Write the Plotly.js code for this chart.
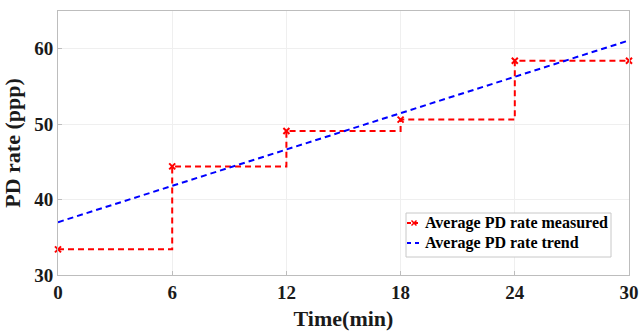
<!DOCTYPE html>
<html><head><meta charset="utf-8">
<script src="https://cdn.plot.ly/plotly-3.0.1.min.js"></script>
<style>html,body{margin:0;padding:0;background:#fff}#c{width:643px;height:336px}</style>
</head><body><div id="c"></div>
<script>
const timeMin = [0, 6, 12, 18, 24, 30];
const measuredRate = [33.4, 44.4, 49.1, 50.6, 58.4, 58.4];
const trendTime = [0, 30];
const trendRate = [37.0, 61.1];
const xTicks = [0, 6, 12, 18, 24, 30];
const yTicks = [30, 40, 50, 60];
const seriesNames = ['Average PD rate measured', 'Average PD rate trend'];

const fontFam = 'Liberation Serif';
const RED = '#ff0000', BLUE = '#0000ff';
const traces = [
  {x: timeMin, y: measuredRate, type: 'scatter', mode: 'lines+markers', line: {shape: 'hv', color: RED, dash: '6px,4px', width: 2},
   marker: {symbol: 'x-thin-open', size: 6, color: RED, line: {color: RED, width: 2}}, name: seriesNames[0], cliponaxis: false},
  {x: trendTime, y: trendRate, type: 'scatter', mode: 'lines', line: {color: BLUE, dash: '6px,4px', width: 2}, name: seriesNames[1], cliponaxis: false}
];

// custom legend (pixel layout -> paper fractions of the plot area)
const PL = 58, PR = 629, PT = 11, PB = 275;
const px = v => (v - PL) / (PR - PL);
const py = v => (PB - v) / (PB - PT);
const legendShapes = [
  {type: 'rect', xref: 'paper', yref: 'paper', x0: px(406), x1: px(611), y0: py(213), y1: py(257), line: {color: '#c8c8c8', width: 1}, fillcolor: '#fff', layer: 'above'},
  {type: 'line', xref: 'paper', yref: 'paper', x0: px(407), x1: px(421), y0: py(223), y1: py(223), line: {color: RED, width: 2, dash: '4px,3px'}, layer: 'above'},
  {type: 'line', xref: 'paper', yref: 'paper', x0: px(411.5), x1: px(416.5), y0: py(220.5), y1: py(225.5), line: {color: RED, width: 1.5}, layer: 'above'},
  {type: 'line', xref: 'paper', yref: 'paper', x0: px(411.5), x1: px(416.5), y0: py(225.5), y1: py(220.5), line: {color: RED, width: 1.5}, layer: 'above'},
  {type: 'line', xref: 'paper', yref: 'paper', x0: px(407), x1: px(421), y0: py(243), y1: py(243), line: {color: BLUE, width: 2, dash: '4px,4px'}, layer: 'above'}
];
const legendAnn = [
  {xref: 'paper', yref: 'paper', x: px(423), y: py(223), xanchor: 'left', yanchor: 'middle', showarrow: false, text: '<b>' + seriesNames[0] + '</b>', font: {family: fontFam, size: 16, color: '#000'}},
  {xref: 'paper', yref: 'paper', x: px(423), y: py(243), xanchor: 'left', yanchor: 'middle', showarrow: false, text: '<b>' + seriesNames[1] + '</b>', font: {family: fontFam, size: 16, color: '#000'}}
];

const layout = {
  width: 643, height: 336,
  margin: {l: PL, r: 643 - PR, t: PT, b: 336 - PB},
  paper_bgcolor: '#fff', plot_bgcolor: '#fff',
  font: {family: fontFam, color: '#000'},
  showlegend: false,
  shapes: legendShapes,
  annotations: legendAnn,
  xaxis: {range: [0, 30], tickvals: xTicks, ticktext: xTicks.map(String), showgrid: true, gridcolor: '#efefef', zeroline: false,
    showline: true, linecolor: '#bdbdbd', linewidth: 1, mirror: true, ticks: 'inside', ticklen: 4, tickcolor: '#bdbdbd',
    tickfont: {size: 19, family: fontFam, color: '#1a1a1a', weight: 'bold'},
    title: {text: '<b>Time(min)</b>', font: {size: 22, family: fontFam, color: '#1a1a1a'}, standoff: 8}},
  yaxis: {range: [30, 65], tickvals: yTicks, ticktext: yTicks.map(String), showgrid: true, gridcolor: '#efefef', zeroline: false,
    showline: true, linecolor: '#bdbdbd', linewidth: 1, mirror: true, ticks: 'inside', ticklen: 4, tickcolor: '#bdbdbd',
    tickfont: {size: 19, family: fontFam, color: '#1a1a1a', weight: 'bold'},
    title: {text: '<b>PD rate (ppp)</b>', font: {size: 22, family: fontFam, color: '#1a1a1a'}, standoff: 12}}
};
Plotly.newPlot('c', traces, layout, {displayModeBar: false, staticPlot: true});
</script></body></html>
